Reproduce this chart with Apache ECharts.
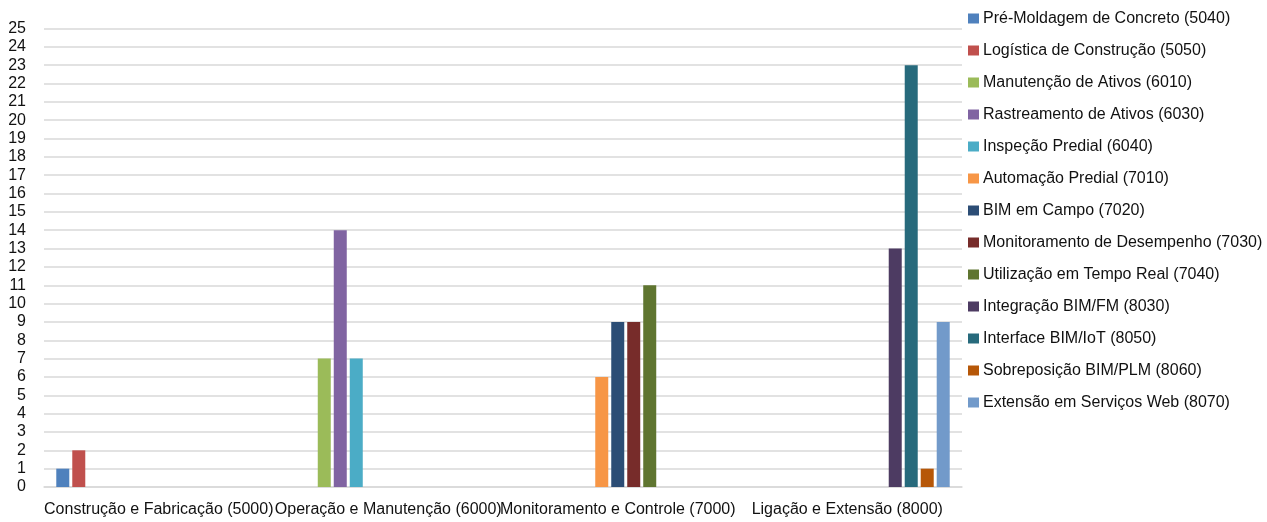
<!DOCTYPE html>
<html><head><meta charset="utf-8">
<script src="https://cdn.jsdelivr.net/npm/echarts@6/dist/echarts.min.js"></script>
<style>html,body{margin:0;padding:0;background:#fff}#c{width:1267px;height:522px}</style>
</head><body><div id="c"></div>
<script>
const categories = ["Construção e Fabricação (5000)", "Operação e Manutenção (6000)", "Monitoramento e Controle (7000)", "Ligação e Extensão (8000)"];
const seriesNames = ["Pré-Moldagem de Concreto (5040)", "Logística de Construção (5050)", "Manutenção de Ativos (6010)", "Rastreamento de Ativos (6030)", "Inspeção Predial (6040)", "Automação Predial (7010)", "BIM em Campo (7020)", "Monitoramento de Desempenho (7030)", "Utilização em Tempo Real (7040)", "Integração BIM/FM (8030)", "Interface BIM/IoT (8050)", "Sobreposição BIM/PLM (8060)", "Extensão em Serviços Web (8070)"];
const s5040 = [1, null, null, null];
const s5050 = [2, null, null, null];
const s6010 = [null, 7, null, null];
const s6030 = [null, 14, null, null];
const s6040 = [null, 7, null, null];
const s7010 = [null, null, 6, null];
const s7020 = [null, null, 9, null];
const s7030 = [null, null, 9, null];
const s7040 = [null, null, 11, null];
const s8030 = [null, null, null, 13];
const s8050 = [null, null, null, 23];
const s8060 = [null, null, null, 1];
const s8070 = [null, null, null, 9];
const seriesValues = [s5040, s5050, s6010, s6030, s6040, s7010, s7020, s7030, s7040, s8030, s8050, s8060, s8070];
const yTicks = {min: 0, max: 25, interval: 1};
const colors = ["#4F81BD", "#C0504D", "#9BBB59", "#8064A2", "#4BACC6", "#F79646", "#2C4D75", "#772C2A", "#5F7530", "#4D3B62", "#276A7C", "#B65708", "#729ACA"];

const chart = echarts.init(document.getElementById('c'));
const font = "'Liberation Sans', Arial, sans-serif";
chart.setOption({
  animation: false,
  color: colors,
  grid: {left: 44, right: 305, top: 28.5, bottom: 35, containLabel: false},
  legend: {
    orient: 'vertical', left: 963, top: 5,
    itemWidth: 11, itemHeight: 10, itemGap: 15,
    icon: 'rect',
    textStyle: {fontFamily: font, fontSize: 16, color: '#111', padding: [0,0,0,-1], lineHeight: 17},
    data: seriesNames
  },
  xAxis: {
    type: 'category', data: categories,
    axisLine: {lineStyle: {color: '#D9D9D9', width: 1.5}},
    axisTick: {show: false},
    axisLabel: {interval: 0, fontFamily: font, fontSize: 16, color: '#111', margin: 15}
  },
  yAxis: {
    type: 'value', min: yTicks.min, max: yTicks.max, interval: yTicks.interval,
    axisLine: {show: false}, axisTick: {show: false},
    splitLine: {lineStyle: {color: '#D9D9D9', width: 1.5}},
    axisLabel: {fontFamily: font, fontSize: 16, color: '#111', margin: 18}
  },
  series: seriesNames.map((n, i) => ({
    name: n, type: 'bar', data: seriesValues[i],
    barGap: '23%', barCategoryGap: '10.7%'
  }))
});
</script></body></html>
